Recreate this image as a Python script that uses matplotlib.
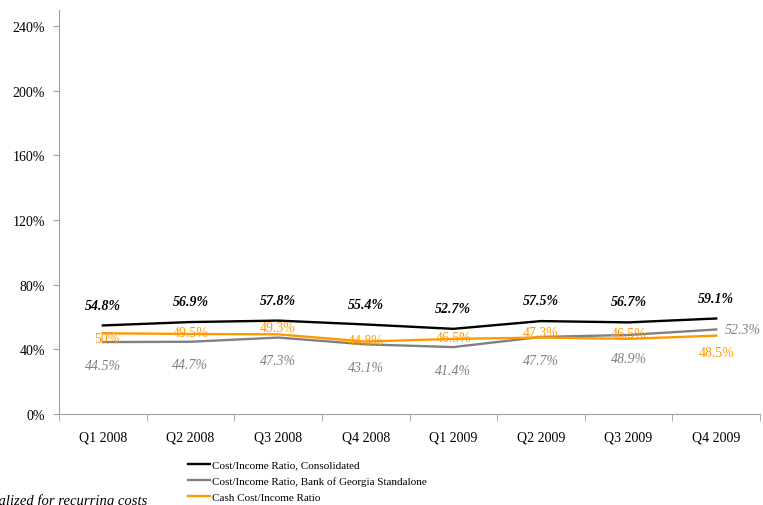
import matplotlib.pyplot as plt
import numpy as np

plt.rcParams['font.family'] = ['Liberation Serif', 'DejaVu Serif']

# Данные с графика
quarters = ["Q1 2008", "Q2 2008", "Q3 2008", "Q4 2008",
            "Q1 2009", "Q2 2009", "Q3 2009", "Q4 2009"]
consolidated = [54.8, 56.9, 57.8, 55.4, 52.7, 57.5, 56.7, 59.1]
standalone = [44.5, 44.7, 47.3, 43.1, 41.4, 47.7, 48.9, 52.3]
cash_ratio = [50.0, 49.5, 49.3, 44.8, 46.5, 47.3, 46.5, 48.5]
cash_labels = ["50%", "49.5%", "49.3%", "44.8%", "46.5%", "47.3%", "46.5%", "48.5%"]

# Сдвиги подписей (в пунктах) для оранжевой серии
cash_offsets = [(3, -4), (0, 1), (0, 5), (0, 1), (0, 1), (0, 4), (0, 4), (0, -12)]

fig = plt.figure(figsize=(7.63, 5.06), dpi=100)
ax = fig.add_axes([59 / 763, 1 - 415 / 506, 701 / 763, 404 / 506])

x = np.arange(len(quarters))
ax.plot(x, np.array(consolidated) / 100, color="black", lw=1.7,
        label="Cost/Income Ratio, Consolidated")
ax.plot(x, np.array(standalone) / 100, color="#808080", lw=1.7,
        label="Cost/Income Ratio, Bank of Georgia Standalone")
ax.plot(x, np.array(cash_ratio) / 100, color="#ff9900", lw=1.7,
        label="Cash Cost/Income Ratio")

# Подписи значений
for i in range(len(quarters)):
    ax.annotate(f"{consolidated[i]}%", (x[i], consolidated[i] / 100),
                xytext=(0, 10), textcoords="offset points", ha="center",
                va="bottom", fontsize=10, fontweight="bold", fontstyle="italic",
                color="black")
    if i < len(quarters) - 1:
        ax.annotate(f"{standalone[i]}%", (x[i], standalone[i] / 100),
                    xytext=(0, -12), textcoords="offset points", ha="center",
                    va="top", fontsize=10, fontstyle="italic", color="#808080")
    else:
        ax.annotate(f"{standalone[i]}%", (x[i], standalone[i] / 100),
                    xytext=(6, 0), textcoords="offset points", ha="left",
                    va="center", fontsize=10, fontstyle="italic", color="#808080")
    ax.annotate(cash_labels[i], (x[i], cash_ratio[i] / 100),
                xytext=cash_offsets[i], textcoords="offset points", ha="center",
                va="center", fontsize=10, color="#ff9900")

ax.set_xlim(-0.5, len(quarters) - 0.5)
ax.set_ylim(0, 2.5)
ax.set_yticks(np.arange(0, 2.41, 0.4))
ax.set_yticklabels([f"{int(round(v * 100))}%" for v in np.arange(0, 2.41, 0.4)])
ax.set_xticks(x)
ax.set_xticklabels(quarters)
ax.set_xticks(np.arange(-0.5, len(quarters), 1), minor=True)
ax.tick_params(axis="x", which="major", length=0, pad=12, labelsize=10)
ax.tick_params(axis="x", which="minor", length=5, color="#a0a0a0")
ax.tick_params(axis="y", length=4, color="#a0a0a0", labelsize=10, pad=6)

for side in ["top", "right"]:
    ax.spines[side].set_visible(False)
for side in ["left", "bottom"]:
    ax.spines[side].set_color("#a0a0a0")

ax.legend(loc="upper left", bbox_to_anchor=(188 / 763, 1 - 461 / 506),
          bbox_transform=fig.transFigure, frameon=False, fontsize=8,
          handlelength=2.0, handletextpad=0.2, labelspacing=0.55,
          borderaxespad=0, borderpad=0)

fig.text(147 / 763, 1 - 501 / 506, "Normalized for recurring costs",
         ha="right", va="center", fontsize=10.5, fontstyle="italic")

fig.savefig("out.png", dpi=100)
